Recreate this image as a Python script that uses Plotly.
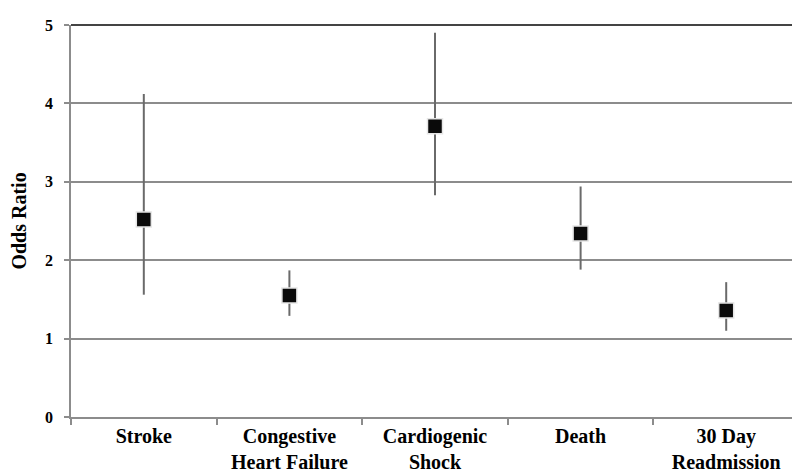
import plotly.graph_objects as go

categories = ["Stroke", "Congestive<br>Heart Failure", "Cardiogenic<br>Shock", "Death", "30 Day<br>Readmission"]
odds_ratio = [2.52, 1.55, 3.71, 2.34, 1.36]
ci_upper = [4.12, 1.87, 4.90, 2.94, 1.72]
ci_lower = [1.56, 1.29, 2.83, 1.88, 1.10]

err_plus = [u - v for u, v in zip(ci_upper, odds_ratio)]
err_minus = [v - l for v, l in zip(odds_ratio, ci_lower)]

fig = go.Figure()
fig.add_trace(go.Scatter(
    x=categories, y=odds_ratio, mode="markers",
    marker=dict(symbol="square", size=15, color="#0a0a0a",
                line=dict(color="#e6e6e6", width=1.5)),
    error_y=dict(type="data", symmetric=False, array=err_plus, arrayminus=err_minus,
                 color="#6a6a6a", thickness=2, width=0),
    showlegend=False, hoverinfo="skip",
))

font_family = "Liberation Serif, Times New Roman, serif"
fig.update_layout(
    width=800, height=474,
    margin=dict(l=63, r=9, t=13, b=64),
    paper_bgcolor="white", plot_bgcolor="white",
    font=dict(family=font_family, color="black"),
    xaxis=dict(
        type="category", range=[-0.5, 4.5], tickson="boundaries",
        ticks="outside", ticklen=6, tickcolor="#8c8c8c", tickwidth=1.5,
        showline=True, linecolor="#8c8c8c", linewidth=1.5,
        showgrid=False, zeroline=False,
        tickfont=dict(family=font_family, size=20, color="black", weight="bold"),
    ),
    yaxis=dict(
        range=[0, 5], dtick=1, tick0=0,
        ticks="outside", ticklen=5, tickcolor="#8c8c8c", tickwidth=1.5,
        ticklabelstandoff=8,
        showline=True, linecolor="#8c8c8c", linewidth=1.5,
        showgrid=True, gridcolor="#8c8c8c", gridwidth=1.5,
        zeroline=False,
        tickfont=dict(family=font_family, size=16, color="black", weight="bold"),
        title=dict(text="Odds Ratio", standoff=14,
                   font=dict(family=font_family, size=20, color="black", weight="bold")),
    ),
)
# darker top and right frame
fig.add_shape(type="line", xref="paper", yref="paper", x0=0, x1=1, y0=1, y1=1,
              line=dict(color="#444444", width=2))
fig.add_shape(type="line", xref="paper", yref="paper", x0=1, x1=1, y0=0, y1=1,
              line=dict(color="#444444", width=2))

fig.write_html("out.html")
